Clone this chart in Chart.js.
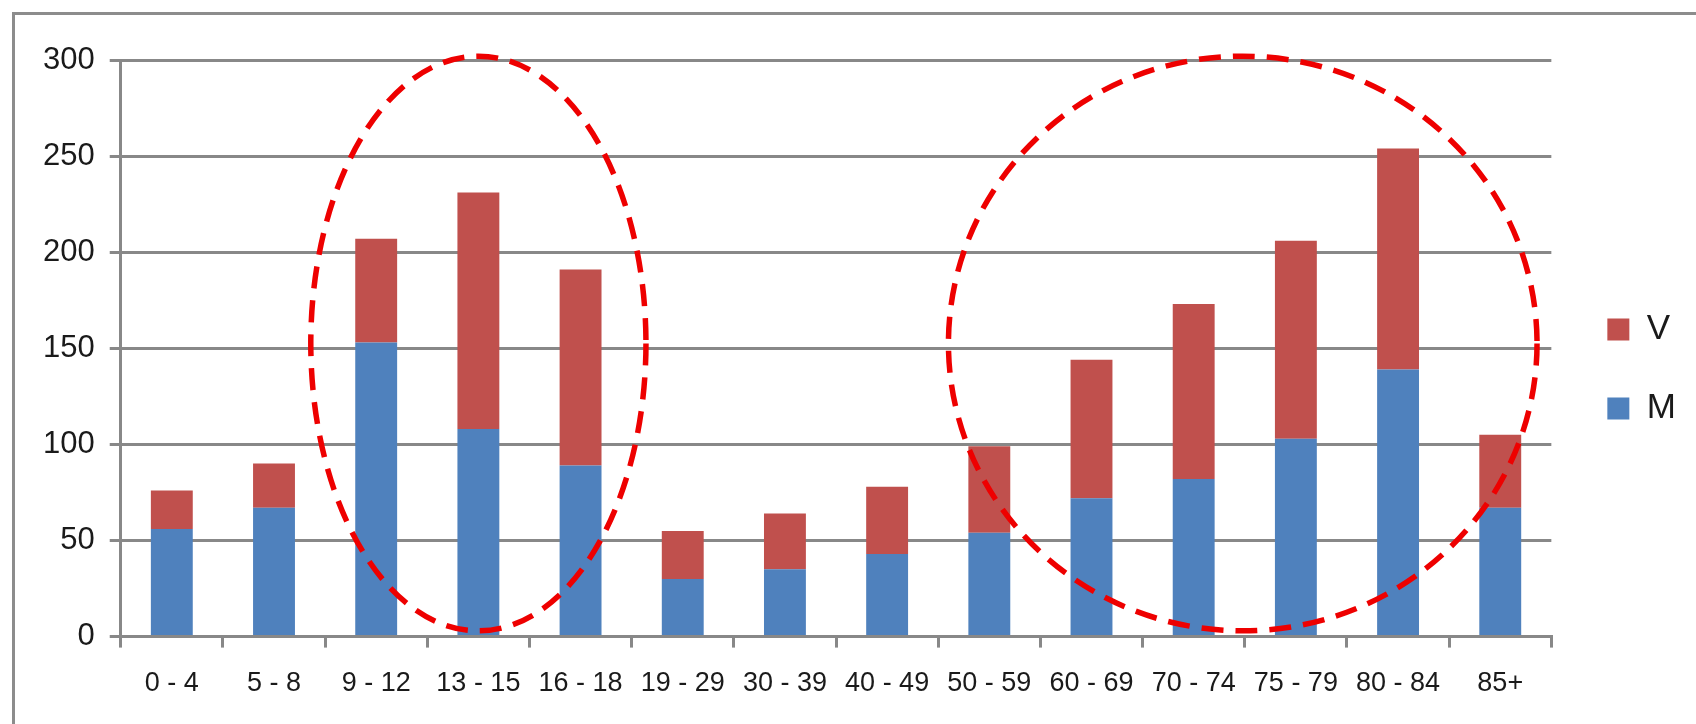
<!DOCTYPE html>
<html>
<head>
<meta charset="utf-8">
<script src="https://cdn.jsdelivr.net/npm/chart.js@4.4.1/dist/chart.umd.min.js"></script>
<style>
    html, body { margin: 0; padding: 0; background: #fff; }
    #wrap { position: relative; width: 1696px; height: 724px; }
    #frame { position: absolute; left: 12px; top: 12px; right: 0; bottom: 0;
             border-top: 3px solid #8c8c8c; border-left: 3px solid #8c8c8c; }
    canvas { position: absolute; left: 0; top: 0; }
</style>
</head>
<body>
<div id="wrap">
    <div id="frame"></div>
    <canvas id="ageChart" width="1696" height="724"></canvas>
</div>
<script>
// Age groups
const ageGroups = ['0 - 4', '5 - 8', '9 - 12', '13 - 15', '16 - 18', '19 - 29', '30 - 39',
    '40 - 49', '50 - 59', '60 - 69', '70 - 74', '75 - 79', '80 - 84', '85+'];

// Series values (stacked: M at the bottom, V on top)
const valuesM = [56, 67, 153, 108, 89, 30, 35, 43, 54, 72, 82, 103, 139, 67];
const valuesV = [20, 23, 54, 123, 102, 25, 29, 35, 45, 72, 91, 103, 115, 38];

// Y axis ticks
const yTicks = [0, 50, 100, 150, 200, 250, 300];

// Dashed red highlight ellipses, in data units (category index, value)
const highlights = [
    { center: 3, halfWidth: 1.64, top: 302, bottom: 3 },
    { center: 10.48, halfWidth: 2.88, top: 302, bottom: 3 }
];

// Draw the dashed ellipses on top of the bars
const ellipsePlugin = {
    id: 'ellipses',
    afterDatasetsDraw(chart) {
        const { ctx, scales: { x, y } } = chart;
        ctx.save();
        ctx.strokeStyle = '#ee0000';
        ctx.lineWidth = 5.5;
        ctx.setLineDash([22, 12]);
        highlights.forEach(h => {
            const cx = x.getPixelForValue(h.center);
            const rx = x.getPixelForValue(h.center + h.halfWidth) - cx;
            const top = y.getPixelForValue(h.top);
            const bottom = y.getPixelForValue(h.bottom);
            ctx.beginPath();
            ctx.ellipse(cx, (top + bottom) / 2, rx, (bottom - top) / 2, 0, 0, Math.PI * 2);
            ctx.stroke();
        });
        ctx.restore();
    }
};

// Nudge the legend: a bit above the middle and away from the plot
const legendShift = {
    id: 'legendShift',
    afterLayout(chart) {
        const lg = chart.legend;
        lg.top -= 21;
        lg.bottom -= 21;
        lg.left += 12;
        lg.right += 12;
    }
};

const gridColor = '#888888';
const ctx = document.getElementById('ageChart').getContext('2d');
new Chart(ctx, {
    type: 'bar',
    data: {
        labels: ageGroups,
        datasets: [{
            label: 'M',
            data: valuesM,
            backgroundColor: '#4f81bd'
        }, {
            label: 'V',
            data: valuesV,
            backgroundColor: '#c0504d'
        }]
    },
    options: {
        responsive: false,
        animation: false,
        devicePixelRatio: 1,
        categoryPercentage: 1,
        barPercentage: 0.41,
        layout: {
            padding: { left: 28, top: 60, right: 22, bottom: 4 }
        },
        plugins: {
            tooltip: { enabled: false },
            legend: {
                position: 'right',
                reverse: true,
                labels: {
                    boxWidth: 22,
                    boxHeight: 22,
                    padding: 44,
                    color: '#1a1a1a',
                    font: { family: 'Liberation Sans', size: 35 }
                }
            }
        },
        scales: {
            x: {
                stacked: true,
                grid: {
                    drawOnChartArea: false,
                    drawTicks: true,
                    tickLength: 11,
                    color: gridColor,
                    lineWidth: 3
                },
                border: { color: gridColor, width: 3 },
                ticks: {
                    padding: 20,
                    color: '#1a1a1a',
                    maxRotation: 0,
                    font: { family: 'Liberation Sans', size: 27 }
                }
            },
            y: {
                stacked: true,
                min: 0,
                max: 300,
                afterBuildTicks: axis => {
                    axis.ticks = yTicks.map(v => ({ value: v }));
                },
                grid: {
                    color: gridColor,
                    lineWidth: 3,
                    tickLength: 11
                },
                border: { color: gridColor, width: 3 },
                ticks: {
                    padding: 15,
                    color: '#1a1a1a',
                    font: { family: 'Liberation Sans', size: 31 }
                }
            }
        }
    },
    plugins: [ellipsePlugin, legendShift]
});
</script>
</body>
</html>
